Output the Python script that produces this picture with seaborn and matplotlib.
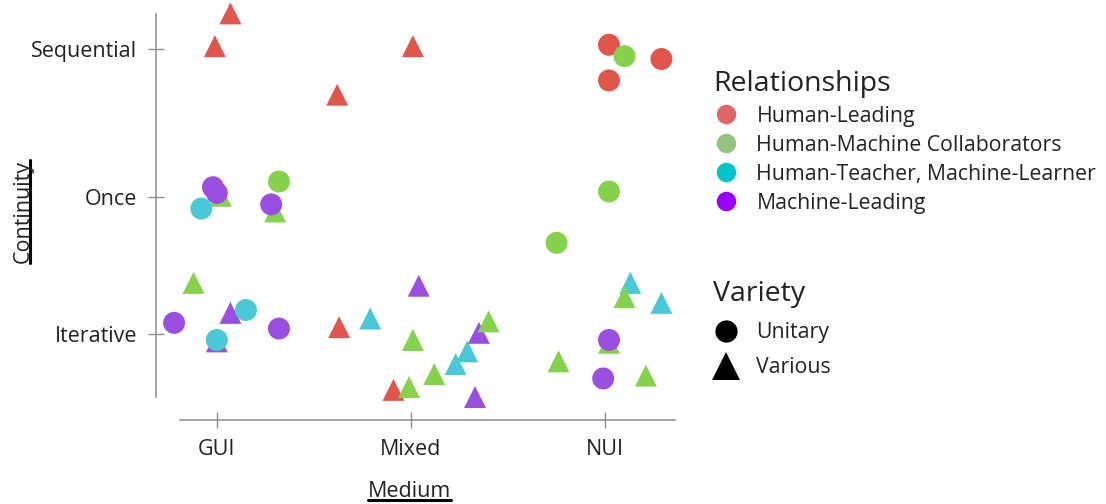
import numpy as np
import pandas as pd
import matplotlib
matplotlib.use("Agg")
import matplotlib.pyplot as plt
from matplotlib.lines import Line2D
import seaborn as sns

# categories
medium_levels = ["GUI", "Mixed", "NUI"]
continuity_levels = ["Iterative", "Once", "Sequential"]
continuity_pos = [0.0, 0.961, 2.0]
relationships = ["Human-Leading", "Human-Machine Collaborators",
                 "Human-Teacher, Machine-Learner", "Machine-Leading"]
varieties = ["Unitary", "Various"]

# one entry per point, jitter in axis units
medium = ["GUI", "GUI", "GUI", "GUI", "GUI", "GUI", "GUI", "GUI", "GUI", "GUI",
          "GUI", "GUI", "GUI", "GUI", "GUI", "GUI",
          "Mixed", "Mixed", "Mixed", "Mixed", "Mixed", "Mixed", "Mixed", "Mixed",
          "Mixed", "Mixed", "Mixed", "Mixed", "Mixed", "Mixed",
          "NUI", "NUI", "NUI", "NUI", "NUI", "NUI", "NUI", "NUI", "NUI", "NUI",
          "NUI", "NUI", "NUI", "NUI"]
continuity = ["Sequential", "Sequential", "Once", "Once", "Once", "Once", "Once", "Once",
              "Once", "Iterative", "Iterative", "Iterative", "Iterative", "Iterative",
              "Iterative", "Iterative",
              "Sequential", "Sequential", "Iterative", "Iterative", "Iterative", "Iterative",
              "Iterative", "Iterative", "Iterative", "Iterative", "Iterative", "Iterative",
              "Iterative", "Iterative",
              "Sequential", "Sequential", "Sequential", "Sequential", "Once", "Once",
              "Iterative", "Iterative", "Iterative", "Iterative", "Iterative", "Iterative",
              "Iterative", "Iterative"]
relationship = ["HL", "HL", "HMC", "HTML", "ML", "ML", "HMC", "HMC", "ML", "HMC", "ML",
                "ML", "HTML", "ML", "HTML", "ML",
                "HL", "HL", "HL", "HTML", "ML", "HMC", "HL", "HMC", "HMC", "HTML", "HTML",
                "ML", "HMC", "ML",
                "HL", "HMC", "HL", "HL", "HMC", "HMC", "HTML", "HMC", "HTML", "HMC", "ML",
                "HMC", "ML", "HMC"]
variety = ["Various", "Various", "Various", "Unitary", "Unitary", "Unitary", "Unitary",
           "Various", "Unitary", "Various", "Unitary", "Various", "Unitary", "Various",
           "Unitary", "Unitary",
           "Various", "Various", "Various", "Various", "Various", "Various", "Various",
           "Various", "Various", "Various", "Various", "Various", "Various", "Various",
           "Unitary", "Unitary", "Unitary", "Unitary", "Unitary", "Unitary", "Various",
           "Various", "Various", "Various", "Unitary", "Various", "Unitary", "Various"]
dx = [0.07, -0.01, 0.02, -0.08, -0.02, 0.00, 0.32, 0.30, 0.28, -0.12, -0.22, 0.07,
      0.15, 0.00, 0.00, 0.32,
      -0.38, 0.01, -0.37, -0.21, 0.04, 0.01, -0.09, -0.01, 0.12, 0.23, 0.29, 0.35,
      0.40, 0.33,
      0.02, 0.10, 0.29, 0.02, 0.02, -0.25, 0.13, 0.10, 0.29, 0.02, 0.02, -0.24,
      -0.01, 0.21]
dy = [0.25, 0.02, 0.01, -0.08, 0.07, 0.03, 0.11, -0.10, -0.05, 0.36, 0.08, 0.15,
      0.17, -0.05, -0.04, 0.04,
      -0.32, 0.02, 0.05, 0.11, 0.34, -0.04, -0.39, -0.37, -0.28, -0.21, -0.12, 0.01,
      0.09, -0.44,
      0.03, -0.05, -0.07, -0.22, 0.04, -0.32, 0.36, 0.26, 0.22, -0.06, -0.04, -0.19,
      -0.31, -0.29]

point_colors = {"HL": "#e0554c", "HMC": "#86d24c", "HTML": "#4bc8d5", "ML": "#9b4fe0"}
legend_colors = ["#e06666", "#93c47d", "#00c5c8", "#9900ff"]

df = pd.DataFrame({"medium": medium, "continuity": continuity,
                   "relationship": relationship, "variety": variety,
                   "dx": dx, "dy": dy})
df["x"] = df["medium"].map({m: i for i, m in enumerate(medium_levels)}) + df["dx"]
df["y"] = df["continuity"].map(dict(zip(continuity_levels, continuity_pos))) + df["dy"]

sns.set_theme(style="ticks")
plt.rcParams["font.family"] = ["Open Sans", "DejaVu Sans"]
text_col = "#222222"
spine_col = "#8c8c8c"

fig = plt.figure(figsize=(11.06, 5.04), dpi=100)
ax = fig.add_axes([0.1627, 0.2123, 0.4476, 0.76])

sns.scatterplot(data=df, x="x", y="y", hue="relationship", style="variety",
                palette=point_colors, markers={"Unitary": "o", "Various": "^"},
                s=250, linewidth=0, legend=False, ax=ax)
for coll in ax.collections:
    coll.set_clip_on(False)

ax.set_xlim(-0.19, 2.36)
ax.set_ylim(-0.44, 2.246)
ax.set_xticks(range(len(medium_levels)))
ax.set_xticklabels(medium_levels)
ax.set_yticks(continuity_pos)
ax.set_yticklabels(continuity_levels)
ax.set_xlabel("")
ax.set_ylabel("")
sns.despine(ax=ax, offset={"left": 17, "bottom": 16.5})
for side in ["left", "bottom"]:
    ax.spines[side].set_color(spine_col)
    ax.spines[side].set_linewidth(1.1)
ax.tick_params(direction="inout", length=12, width=1.0, color=spine_col,
               labelsize=15.5, labelcolor=text_col, pad=8)

# axis titles, underlined
ylab = fig.text(0.021, 0.58, "Continuity", rotation=90, ha="center", va="center",
                fontsize=15.5, color=text_col)
xlab = fig.text(0.37, 0.024, "Medium", ha="center", va="center",
                fontsize=15.5, color=text_col)

# legends
rel_handles = [Line2D([], [], marker="o", ls="", markersize=14, markeredgewidth=0,
                      color=c) for c in legend_colors]
leg1 = fig.legend(rel_handles, relationships, title="Relationships", loc="upper left",
                  bbox_to_anchor=(0.635, 0.883), frameon=False, fontsize=15.3,
                  title_fontsize=20.5, alignment="left", handletextpad=0.85,
                  labelspacing=0.38, borderpad=0, handlelength=1.2)
var_handles = [Line2D([], [], marker="o", ls="", markersize=16, color="black",
                      markeredgewidth=0),
               Line2D([], [], marker="^", ls="", markersize=20, color="black",
                      markeredgewidth=0)]
leg2 = fig.legend(var_handles, varieties, title="Variety", loc="upper left",
                  bbox_to_anchor=(0.635, 0.465), frameon=False, fontsize=15.3,
                  title_fontsize=20.5, alignment="left", handletextpad=0.85,
                  labelspacing=0.66, borderpad=0, handlelength=1.2)
for lg in (leg1, leg2):
    for t in lg.get_texts():
        t.set_color(text_col)
    lg.get_title().set_color(text_col)

fig.canvas.draw()
r = fig.canvas.get_renderer()
inv = fig.transFigure.inverted()
bb = inv.transform_bbox(xlab.get_window_extent(r))
fig.add_artist(Line2D([bb.x0, bb.x1], [bb.y0 + 0.004, bb.y0 + 0.004], color="black",
                      lw=2.2, transform=fig.transFigure))
bb = inv.transform_bbox(ylab.get_window_extent(r))
fig.add_artist(Line2D([bb.x1 - 0.003, bb.x1 - 0.003], [bb.y0, bb.y1], color="black",
                      lw=2.2, transform=fig.transFigure))

fig.savefig("out.png", dpi=100)
